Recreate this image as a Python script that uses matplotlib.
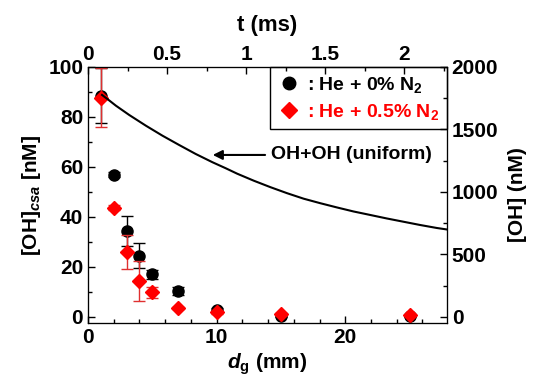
import matplotlib
matplotlib.use("Agg")
from matplotlib import pyplot as plt
from matplotlib.ticker import MultipleLocator
from matplotlib.lines import Line2D

plt.rcParams['font.family'] = 'Liberation Sans'
plt.rcParams['font.weight'] = 'bold'
plt.rcParams['axes.labelweight'] = 'bold'
plt.rcParams['mathtext.fontset'] = 'custom'
plt.rcParams['mathtext.rm'] = 'Liberation Sans:bold'
plt.rcParams['mathtext.bf'] = 'Liberation Sans:bold'
plt.rcParams['mathtext.it'] = 'Liberation Sans:bold:italic'
plt.rcParams['mathtext.bfit'] = 'Liberation Sans:bold:italic'

# He + 0% N2
d_he = [1, 2, 3, 4, 5, 7, 10, 15, 25]
oh_he = [88.5, 56.8, 34.4, 24.5, 17.0, 10.3, 2.8, 0.4, 0.5]
err_he = [11.0, 1.0, 6.0, 5.0, 1.8, 1.5, 0.8, 0.5, 0.5]

# He + 0.5% N2
d_n2 = [1, 2, 3, 4, 5, 7, 10, 15, 25]
oh_n2 = [87.7, 43.7, 26.1, 14.5, 9.8, 3.5, 1.8, 1.1, 0.8]
err_n2 = [11.8, 1.0, 6.8, 8.0, 2.3, 0.5, 0.5, 0.3, 0.3]

# OH+OH (uniform) model curve, right axis (nM)
d_model = [1.09, 1.60, 2.17, 3.20, 4.50, 5.79, 7.08, 8.37, 9.67, 10.70,
           11.60, 12.89, 14.19, 15.48, 16.77, 18.06, 19.36, 20.64, 21.94,
           23.23, 24.52, 25.81, 27.11, 27.9]
oh_model = [1776, 1736, 1690, 1616, 1530, 1450, 1376, 1304, 1238, 1190,
            1146, 1090, 1038, 990, 946, 910, 876, 844, 816,
            788, 762, 736, 712, 700]

fig = plt.figure(figsize=(5.34, 3.76), dpi=100)
ax = fig.add_axes([0.1648, 0.141, 0.672, 0.681])

ax.errorbar(d_he, oh_he, yerr=err_he, fmt='o', color='black', ms=8,
            capsize=4, elinewidth=1, capthick=1, zorder=3)
ax.errorbar(d_n2, oh_n2, yerr=err_n2, fmt='D', color='red', ms=7.5,
            ecolor='#e03030', capsize=4, elinewidth=1, capthick=1, zorder=4)

ax.set_xlim(0, 27.9)
ax.set_ylim(-2.4, 100)
ax.xaxis.set_major_locator(MultipleLocator(10))
ax.xaxis.set_minor_locator(MultipleLocator(2))
ax.yaxis.set_major_locator(MultipleLocator(20))
ax.yaxis.set_minor_locator(MultipleLocator(10))
ax.tick_params(which='both', direction='in', labelsize=15, width=1)
ax.tick_params(which='major', length=5)
ax.tick_params(which='minor', length=3)
ax.set_xlabel(r'$\mathbfit{d}_\mathbf{g}$ (mm)', fontsize=15, labelpad=3)
ax.set_ylabel(r'[OH]$_{\mathbfit{csa}}$ [nM]', fontsize=15, labelpad=4)

handles = [Line2D([], [], marker='o', ls='none', color='black', ms=9),
           Line2D([], [], marker='D', ls='none', color='red', ms=8.5)]
labels = [': He + 0% N$_2$', ': He + 0.5% N$_2$']
leg = ax.legend(handles, labels, loc='upper right', borderaxespad=0,
                fontsize=14, handletextpad=0.3, handlelength=1.2,
                fancybox=False, edgecolor='black', framealpha=1,
                borderpad=0.4, labelspacing=0.35)
leg.get_frame().set_linewidth(1)
for txt, c in zip(leg.get_texts(), ['black', 'red']):
    txt.set_color(c)

ax2 = ax.twinx()
ax2.plot(d_model, oh_model, color='black', lw=1.5)
ax2.set_ylim(-48, 2000)
ax2.yaxis.set_major_locator(MultipleLocator(500))
ax2.yaxis.set_minor_locator(MultipleLocator(250))
ax2.tick_params(which='both', direction='in', labelsize=15, width=1)
ax2.tick_params(which='major', length=5)
ax2.tick_params(which='minor', length=3)
ax2.set_ylabel('[OH] (nM)', fontsize=15, labelpad=7)

ax3 = ax.twiny()
ax3.set_xlim(0, 2.27)
ax3.xaxis.set_minor_locator(MultipleLocator(0.25))
ax3.set_xticks([0, 0.5, 1, 1.5, 2])
ax3.set_xticklabels(['0', '0.5', '1', '1.5', '2'], fontweight='bold')
ax3.tick_params(which='both', direction='in', labelsize=15, width=1, pad=2)
ax3.tick_params(which='major', length=5)
ax3.tick_params(which='minor', length=3)
ax3.set_xlabel('t (ms)', fontsize=16, labelpad=10)

ax.annotate('OH+OH (uniform)', xy=(9.7, 64.8), xytext=(14.2, 64.8),
            fontsize=14, va='center', ha='left',
            arrowprops=dict(arrowstyle='-|>', color='black', lw=1.5,
                            mutation_scale=14, shrinkA=2, shrinkB=0))

fig.savefig('out.png', dpi=100)
